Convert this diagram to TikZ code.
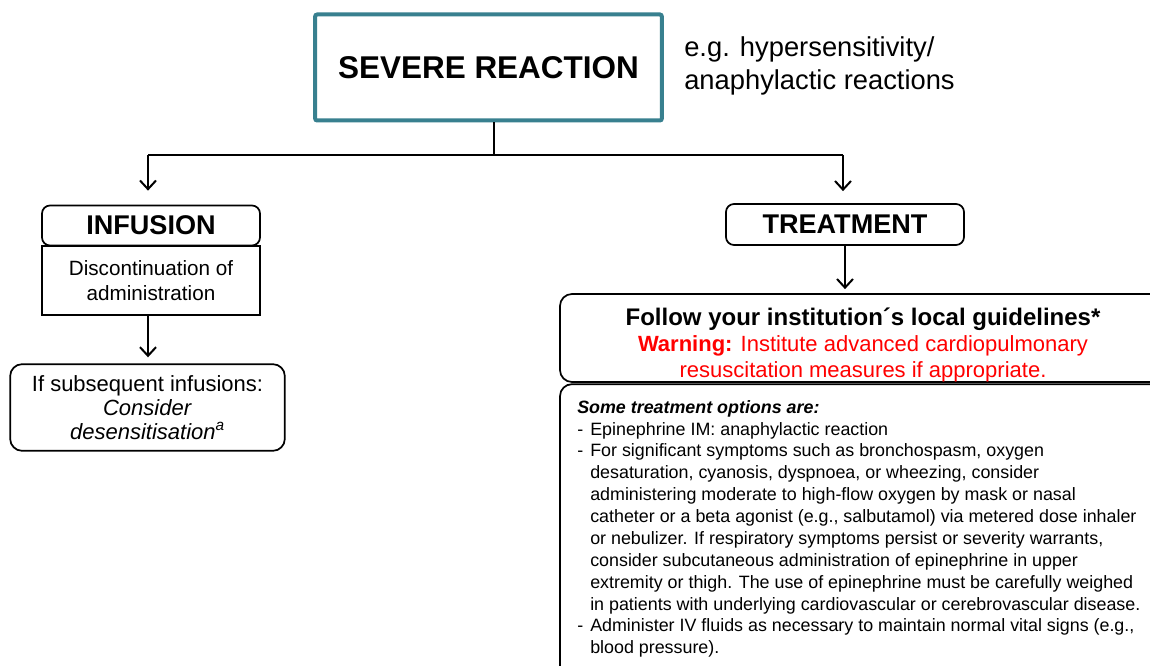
\documentclass[tikz,border=0pt]{standalone}
\usepackage{fontspec}
\setmainfont{Liberation Sans}
\usetikzlibrary{arrows.meta}
\definecolor{tealline}{RGB}{56,128,143}
\definecolor{warnred}{RGB}{255,0,0}
\newcommand{\dashitem}{\makebox[9.75pt][l]{-}}
\newcommand{\contline}{\hspace*{9.75pt}}
\begin{document}
\begin{tikzpicture}[x=0.75pt,y=-0.75pt,
  conn/.style={line width=1.5pt},
  arr/.style={conn,-{Straight Barb[length=6.5pt,width=12pt]}},
  sbox/.style={draw,line width=1.3pt,align=center,inner sep=0pt},
  rbox/.style={sbox,rounded corners=6pt},
  bigbox/.style={sbox,rounded corners=9pt},
  headfont/.style={font=\bfseries\fontsize{20.3}{24}\selectfont},
  bodyfont/.style={font=\fontsize{15.5}{18.75}\selectfont}
]
\path[use as bounding box,clip] (0,0) rectangle (1150,666);
\fill[white] (0,0) rectangle (1150,666);

% top box
\node[draw=tealline,line width=3pt,rounded corners=1.5pt,minimum width=260pt,minimum height=79.5pt,
  font=\bfseries\fontsize{23.6}{28}\selectfont] (sev) at (488.5,67.5) {SEVERE REACTION};
\node[anchor=west,inner sep=0pt,align=left,font=\fontsize{20.5}{25}\selectfont] (eg) at (684,66)
  {e.g. hypersensitivity/\\anaphylactic reactions};

% left branch
\node[sbox,minimum width=163.5pt,minimum height=51.75pt,bodyfont] (disc) at (151,280.5)
  {Discontinuation of\\administration};
\node[rbox,minimum width=163.5pt,minimum height=30pt,headfont] (inf) at (151,225.5) {INFUSION};
\node[bigbox,minimum width=206pt,minimum height=65pt,font=\fontsize{16.5}{18}\selectfont] (sub) at (147.5,407.5)
  {If subsequent infusions:\\\textit{Consider}\\\textit{desensitisation\textsuperscript{a}}};

% right branch
\node[rbox,minimum width=178.5pt,minimum height=30.75pt,headfont] (treat) at (845,224.5) {TREATMENT};
\node[bigbox,minimum width=453pt,minimum height=66pt] (follow) at (862,338) {};
\node[inner sep=0pt,align=center,font=\fontsize{16.5}{19.5}\selectfont] (followtext) at (863,345)
  {{\bfseries\fontsize{18}{19.5}\selectfont Follow your institution´s local guidelines*}\\
   \textcolor{warnred}{\textbf{Warning:} Institute advanced cardiopulmonary}\\
   \textcolor{warnred}{resuscitation measures if appropriate.}};
\node[bigbox,minimum width=453pt,minimum height=236pt] (opts) at (862,541.5) {};
\node[anchor=north west,inner sep=0pt,align=left,font=\fontsize{13.4}{16.4}\selectfont] (optstext) at (577,400)
  {\textbf{\textit{Some treatment options are:}}\\
   \dashitem Epinephrine IM: anaphylactic reaction\\
   \dashitem For significant symptoms such as bronchospasm, oxygen\\
   \contline desaturation, cyanosis, dyspnoea, or wheezing, consider\\
   \contline administering moderate to high-flow oxygen by mask or nasal\\
   \contline catheter or a beta agonist (e.g., salbutamol) via metered dose inhaler\\
   \contline or nebulizer. If respiratory symptoms persist or severity warrants,\\
   \contline consider subcutaneous administration of epinephrine in upper\\
   \contline extremity or thigh. The use of epinephrine must be carefully weighed\\
   \contline in patients with underlying cardiovascular or cerebrovascular disease.\\
   \dashitem Administer IV fluids as necessary to maintain normal vital signs (e.g.,\\
   \contline blood pressure).};

% connectors
\coordinate (hub) at (494,155);
\coordinate (lt) at (148,155);
\coordinate (rt) at (843,155);
\draw[conn] (sev.south -| hub) -- (hub);
\draw[conn] (lt) -- (rt);
\draw[arr,shorten >=10.5pt] (lt) -- (lt |- inf.north);
\draw[arr,shorten >=9pt] (rt) -- (rt |- treat.north);
\draw[arr,shorten >=4.5pt] (disc.south -| lt) -- (sub.north -| lt);
\draw[arr,shorten >=3pt] (treat.south) -- (follow.north -| treat.south);
\end{tikzpicture}
\end{document}
